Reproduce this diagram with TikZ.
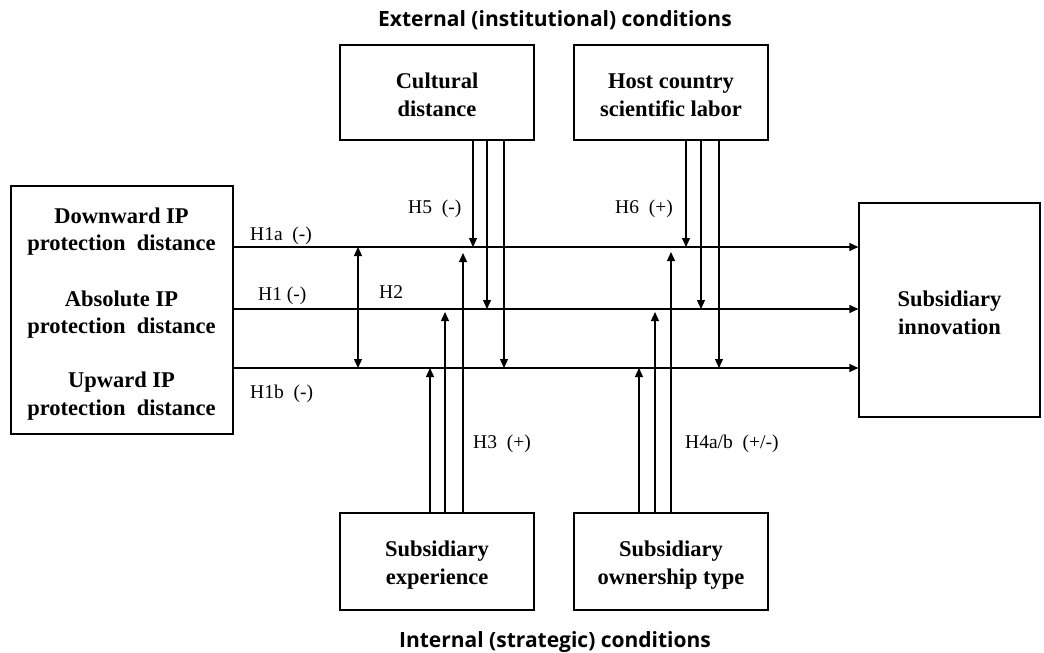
\documentclass[tikz,border=0pt]{standalone}
\usepackage{fontspec}
\setmainfont{Liberation Serif}
\newfontfamily\headfont{Open Sans}
\usetikzlibrary{arrows.meta}
\begin{document}
\begin{tikzpicture}[x=1pt,y=-1pt,
  box/.style={draw, line width=1.2pt, inner sep=0pt},
  btxt/.style={font=\fontsize{22.5}{27.5}\selectfont\bfseries, align=center, inner sep=0pt},
  lbl/.style={font=\fontsize{19.5}{22}\selectfont, anchor=base west, inner sep=0pt},
  head/.style={font=\headfont\bfseries\fontsize{21}{25}\selectfont, anchor=base, inner sep=0pt},
  arr/.style={line width=1.2pt, -{Triangle[length=9pt,width=8pt]}},
  darr/.style={line width=1.2pt, {Triangle[length=9pt,width=8pt]}-{Triangle[length=9pt,width=8pt]}}
]
\useasboundingbox (0,0) rectangle (1044,653);
% boxes
\node[box, minimum width=222pt, minimum height=248pt] (src) at (122,310) {};
\node[box, minimum width=181pt, minimum height=214pt] (tgt) at (949.5,310) {};
\node[box, minimum width=194pt, minimum height=95pt] (cult) at (437,92.5) {};
\node[box, minimum width=194pt, minimum height=95pt] (host) at (671,92.5) {};
\node[box, minimum width=194pt, minimum height=97pt] (exp) at (437,561.5) {};
\node[box, minimum width=194pt, minimum height=97pt] (own) at (671,561.5) {};
% box texts
\node[btxt] (tgtT) at (949.5,313) {Subsidiary\\innovation};
\node[btxt] (cultT) at (437,95) {Cultural\\distance};
\node[btxt] (hostT) at (671,95) {Host country\\scientific labor};
\node[btxt] (expT) at (437,565) {Subsidiary\\experience};
\node[btxt] (ownT) at (671,565) {Subsidiary\\ownership type};
\node[btxt] (t1) at (121.5,231.5) {Downward IP\\protection\ \ distance};
\node[btxt] (t2) at (121.5,314.5) {Absolute IP\\protection\ \ distance};
\node[btxt] (t3) at (121.5,396) {Upward IP\\protection\ \ distance};
% headings
\node[head] (ext) at (555,27) {External (institutional) conditions};
\node[head] (int) at (555,647) {Internal (strategic) conditions};
% reference coordinates
\coordinate (L1) at (0,247);
\coordinate (L2) at (0,309);
\coordinate (L3) at (0,368);
\coordinate (h2) at (358,0);
\coordinate (c1) at (473,0);
\coordinate (c2) at (487,0);
\coordinate (c3) at (504,0);
\coordinate (s1) at (686,0);
\coordinate (s2) at (701,0);
\coordinate (s3) at (719,0);
\coordinate (e1) at (430,0);
\coordinate (e2) at (445,0);
\coordinate (e3) at (463,0);
\coordinate (o1) at (639,0);
\coordinate (o2) at (655,0);
\coordinate (o3) at (671,0);
% main paths
\draw[arr] (src.east |- L1) -- (tgt.west |- L1);
\draw[arr] (src.east |- L2) -- (tgt.west |- L2);
\draw[arr] (src.east |- L3) -- (tgt.west |- L3);
\draw[darr] (h2 |- L1) -- (h2 |- L3);
% external moderators
\draw[arr] (cult.south -| c1) -- (c1 |- L1);
\draw[arr] (cult.south -| c2) -- (c2 |- L2);
\draw[arr] (cult.south -| c3) -- (c3 |- L3);
\draw[arr] (host.south -| s1) -- (s1 |- L1);
\draw[arr] (host.south -| s2) -- (s2 |- L2);
\draw[arr] (host.south -| s3) -- (s3 |- L3);
% internal moderators
\draw[arr] (exp.north -| e1) -- (e1 |- L3);
\draw[arr, shorten >=3pt] (exp.north -| e2) -- (e2 |- L2);
\draw[arr, shorten >=6pt] (exp.north -| e3) -- (e3 |- L1);
\draw[arr] (own.north -| o1) -- (o1 |- L3);
\draw[arr, shorten >=3pt] (own.north -| o2) -- (o2 |- L2);
\draw[arr, shorten >=5pt] (own.north -| o3) -- (o3 |- L1);
% labels
\node[lbl] (lh1a) at (250,240) {H1a\ \ (-)};
\node[lbl] (lh1) at (258,300) {H1 (-)};
\node[lbl] (lh1b) at (250,398) {H1b\ \ (-)};
\node[lbl] (lh2) at (379,298) {H2};
\node[lbl] (lh5) at (408,213) {H5\ \ (-)};
\node[lbl] (lh6) at (615,213) {H6\ \ (+)};
\node[lbl] (lh3) at (473,448) {H3\ \ (+)};
\node[lbl] (lh4) at (685,448) {H4a/b\ \ (+/-)};
\end{tikzpicture}
\end{document}
